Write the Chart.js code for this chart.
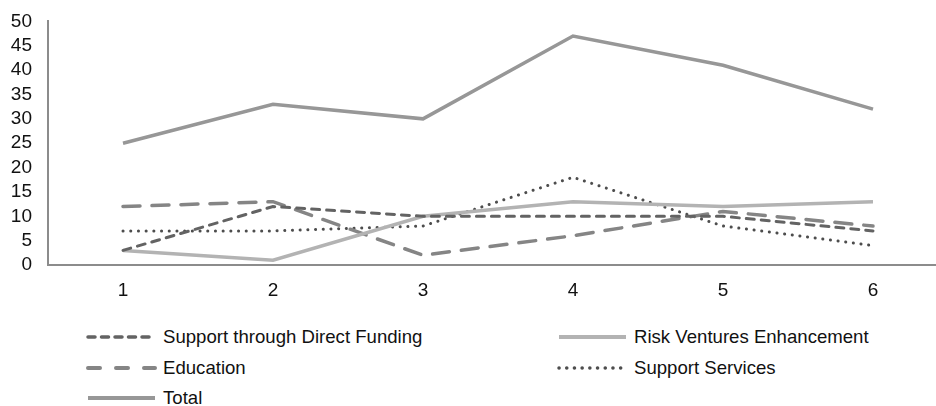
<!DOCTYPE html>
<html>
<head>
<meta charset="utf-8">
<script src="https://cdn.jsdelivr.net/npm/chart.js@4.4.1/dist/chart.umd.min.js"></script>
<style>
  html, body { margin: 0; padding: 0; background: #fff; overflow: hidden; width: 936px; height: 406px; }
  #wrap { position: absolute; left: 0; top: -6px; width: 948px; height: 316px; }
  .leg { position: absolute; font-family: "Liberation Sans", Arial, sans-serif; font-size: 18.6px; color: #111; display: flex; align-items: center; white-space: nowrap; }
  .leg svg { margin-right: 6px; }
</style>
</head>
<body>
<div id="wrap"><canvas id="main-chart"></canvas></div>
<div id="legend"></div>
<script>
const categories = ['1', '2', '3', '4', '5', '6'];
const directFunding   = [3, 12, 10, 10, 10, 7];
const riskVentures    = [3, 1, 10, 13, 12, 13];
const education       = [12, 13, 2, 6, 11, 8];
const supportServices = [7, 7, 8, 18, 8, 4];
const total           = [25, 33, 30, 47, 41, 32];

const seriesNames = ['Support through Direct Funding', 'Risk Ventures Enhancement', 'Education', 'Support Services', 'Total'];

// styles per series: colour, width, dash (canvas) and legend dash (svg)
const styles = [
  { color: '#636363', width: 3,   dash: [8, 7],   legDash: '7 6.5' },
  { color: '#b3b3b3', width: 3.5, dash: [],       legDash: '' },
  { color: '#858585', width: 3.5, dash: [17, 12], legDash: '12 16' },
  { color: '#4d4d4d', width: 3,   dash: [0.1, 7.6], legDash: '0.1 7.6' },
  { color: '#979797', width: 3.5, dash: [],       legDash: '' },
];

const values = [directFunding, riskVentures, education, supportServices, total];
const tickFont = { family: '"Liberation Sans", Arial, sans-serif', size: 19 };

new Chart(document.getElementById('main-chart'), {
  type: 'line',
  data: {
    labels: categories,
    datasets: values.map((v, i) => ({
      label: seriesNames[i],
      data: v,
      borderColor: styles[i].color,
      borderWidth: styles[i].width,
      borderDash: styles[i].dash,
      borderCapStyle: styles[i].dash.length ? 'round' : 'butt',
      pointRadius: 0,
      tension: 0,
      fill: false,
    }))
  },
  options: {
    responsive: true, maintainAspectRatio: false,
    animation: false,
    layout: { padding: { top: 14, left: 0, right: 0, bottom: 0 } },
    plugins: { legend: { display: false }, tooltip: { enabled: false } },
    scales: {
      x: {
        offset: true,
        grid: { display: false, drawTicks: false },
        border: { color: '#8c8c8c', width: 2 },
        ticks: { color: '#111', font: tickFont, padding: 14, maxRotation: 0 },
        afterFit: s => { s.height = 45; }
      },
      y: {
        min: 0, max: 50,
        grid: { display: false, drawTicks: false },
        border: { color: '#8c8c8c', width: 2 },
        ticks: { stepSize: 5, autoSkip: false, color: '#111', font: tickFont, padding: 16 },
        afterFit: s => { s.width = 48; }
      }
    }
  }
});

// Legend in two columns, drawn as html
const legPos = [
  { x: 86,  y: 337 }, { x: 557, y: 337 },
  { x: 86,  y: 368 }, { x: 557, y: 368 },
  { x: 86,  y: 398 },
];
document.getElementById('legend').innerHTML = seriesNames.map((name, i) => {
  const st = styles[i];
  const cap = st.legDash ? 'round' : 'butt';
  const dash = st.legDash ? `stroke-dasharray="${st.legDash}"` : '';
  return `<div class="leg" style="left:${legPos[i].x}px;top:${legPos[i].y - 13}px;height:26px">
    <svg width="71" height="10"><line x1="2" y1="5" x2="69" y2="5" stroke="${st.color}" stroke-width="${st.width + 0.5}" stroke-linecap="${cap}" ${dash}/></svg>
    <span>${name}</span></div>`;
}).join('');
</script>
</body>
</html>
